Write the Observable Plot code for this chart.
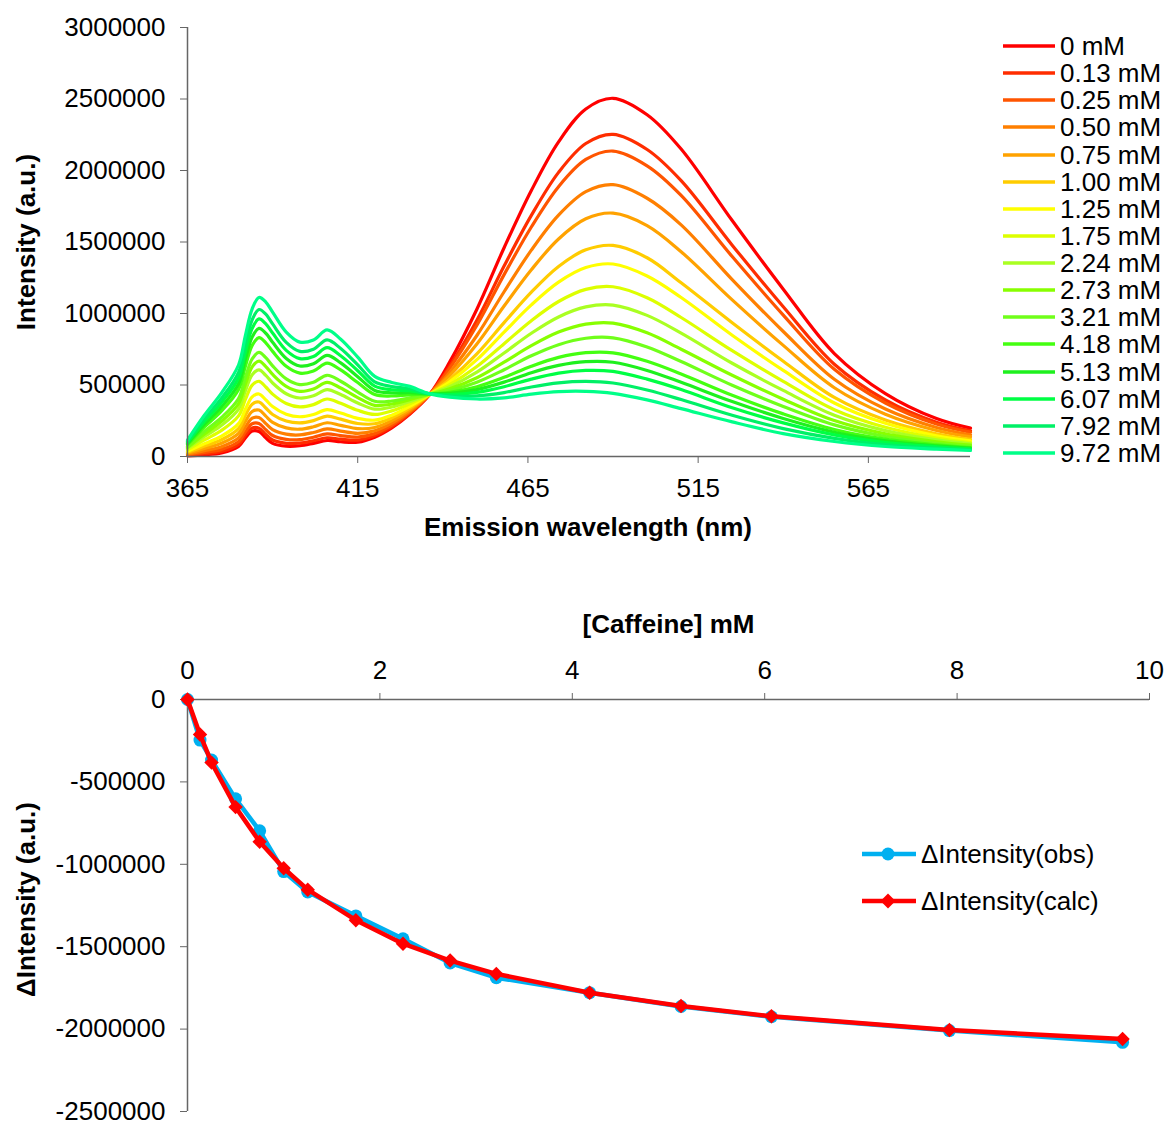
<!DOCTYPE html>
<html><head><meta charset="utf-8">
<script src="https://cdn.jsdelivr.net/npm/d3@7"></script>
<script src="https://cdn.jsdelivr.net/npm/@observablehq/plot@0.6"></script>
<style>
body{margin:0;background:#fff;}
#wrap{position:relative;width:1167px;height:1126px;overflow:hidden;font-family:"Liberation Sans",Arial,sans-serif;background:#fff;}
#top svg,#bottom svg{display:block;overflow:visible;}
.row{position:absolute;height:28px;display:flex;align-items:center;font-size:26px;line-height:28px;color:#000;white-space:nowrap;}
.row svg{display:block;margin-right:4px;}
</style></head><body>
<div id="wrap"><div id="top"></div><div id="bottom"></div><div id="legTop"></div><div id="legBot"></div></div>
<script>
// ---------- Top panel: emission spectra (intensity in thousands of a.u.) ----------
const WL = [365,370,375,380,382,384,386,388,390,394,398,402,406,410,415,420,425,430,436,442,450,458,466,474,482,490,500,510,525,540,555,570,585,595];
const concLabels = ["0 mM","0.13 mM","0.25 mM","0.50 mM","0.75 mM","1.00 mM","1.25 mM","1.75 mM","2.24 mM","2.73 mM","3.21 mM","4.18 mM","5.13 mM","6.07 mM","7.92 mM","9.72 mM"];
const COLORS = ["#FF0000","#FF2D00","#FF5500","#FF7F00","#FFA200","#FFCC00","#FFFF00","#DDFF00","#AAFF22","#88FF00","#70FF1A","#44FF11","#1EF01E","#00FF44","#00F066","#00FF88"];
const I_0_00 = [5,12,25,70,130,178,175,130,92,72,75,92,112,103,100,135,200,290,430,660,1030,1460,1860,2200,2430,2505,2390,2150,1650,1170,720,440,265,198];
const I_0_13 = [8,19,36,84,148,199,198,154,115,92,93,110,131,121,115,146,208,295,430,630,953,1332,1686,1987,2189,2253,2147,1929,1478,1047,645,395,239,179];
const I_0_25 = [12,29,50,104,173,229,231,187,147,120,118,135,158,146,136,160,219,302,431,616,918,1272,1605,1887,2077,2136,2033,1826,1398,989,610,374,227,170];
const I_0_50 = [17,41,69,130,205,268,273,230,188,156,151,168,193,178,162,180,233,311,431,588,846,1152,1443,1688,1852,1901,1806,1620,1237,874,540,332,203,152];
const I_0_75 = [23,57,92,161,245,315,325,282,239,200,191,208,236,218,195,203,251,322,432,565,786,1052,1306,1521,1662,1702,1615,1432,1095,777,481,296,182,137];
const I_1_00 = [29,73,117,195,288,366,381,339,294,248,235,251,282,261,231,229,270,334,432,538,717,936,1149,1329,1445,1476,1390,1215,935,666,413,255,159,120];
const I_1_25 = [36,90,143,230,330,417,437,396,349,295,278,294,328,304,267,254,289,347,433,522,677,870,1060,1219,1321,1346,1262,1112,848,602,374,232,145,110];
const I_1_75 = [46,116,183,284,399,499,526,486,436,371,347,363,402,372,323,294,319,366,434,503,629,789,950,1084,1169,1187,1110,972,740,525,327,204,129,98];
const I_2_24 = [56,140,218,332,459,571,606,567,514,439,409,425,468,433,374,331,346,383,435,488,590,724,862,976,1046,1059,987,863,652,462,289,181,116,89];
const I_2_73 = [63,158,246,369,506,627,667,629,574,491,456,472,518,479,412,358,367,396,435,473,551,660,775,870,926,933,865,750,568,400,251,158,103,79];
const I_3_21 = [70,176,273,406,552,682,728,691,634,543,503,519,568,526,451,386,388,409,436,461,520,607,704,782,827,830,766,664,498,350,221,140,92,71];
const I_4_18 = [82,207,319,469,631,777,831,795,735,631,583,598,653,605,517,433,423,431,437,449,488,554,631,693,726,725,666,577,428,298,189,121,81,63];
const I_5_13 = [90,226,348,509,681,836,896,862,799,686,633,649,707,655,558,462,445,446,438,441,468,520,586,637,663,659,602,519,384,266,170,109,74,58];
const I_6_07 = [97,246,378,549,731,896,962,928,863,742,684,699,761,705,600,492,467,460,439,433,448,488,541,583,602,595,541,468,341,235,151,97,68,54];
const I_7_92 = [105,265,407,589,782,956,1028,995,927,798,735,750,815,755,641,522,489,474,439,424,424,447,486,515,525,514,465,398,288,195,127,83,59,47];
const I_9_72 = [115,290,445,640,846,1033,1112,1080,1010,870,800,815,885,820,695,560,518,492,440,415,402,410,436,454,456,442,396,335,242,160,105,70,52,42];
const spectra = [I_0_00,I_0_13,I_0_25,I_0_50,I_0_75,I_1_00,I_1_25,I_1_75,I_2_24,I_2_73,I_3_21,I_4_18,I_5_13,I_6_07,I_7_92,I_9_72];
const xTicksTop = [365,415,465,515,565];
const yTicksTop = [0,500000,1000000,1500000,2000000,2500000,3000000];

// ---------- Bottom panel: titration ----------
const caffeine = [0,0.13,0.25,0.50,0.75,1.00,1.25,1.75,2.24,2.73,3.21,4.18,5.13,6.07,7.92,9.72];
const dObs  = [0,-246000,-367000,-603000,-797000,-1044000,-1168000,-1313000,-1452000,-1599000,-1688000,-1779000,-1863000,-1925000,-2009000,-2080000];
const dCalc = [0,-212000,-383000,-653000,-863000,-1024000,-1154000,-1339000,-1482000,-1584000,-1665000,-1779000,-1860000,-1922000,-2005000,-2060000];
const xTicksBot = [0,2,4,6,8,10];
const yTicksBot = [0,-500000,-1000000,-1500000,-2000000,-2500000];
const seriesBot = ["ΔIntensity(obs)","ΔIntensity(calc)"];
const colorsBot = ["#00B0F0","#FF0000"];

const FONT = "'Liberation Sans', Arial, sans-serif";
const AX = "#666";

const topData = [];
spectra.forEach((arr, k) => arr.forEach((v, i) => topData.push({wl: WL[i], I: v * 1000, c: concLabels[k]})));

const topPlot = Plot.plot({
  width: 1167, height: 560,
  marginLeft: 187, marginRight: 197, marginTop: 27, marginBottom: 104,
  style: {fontFamily: FONT, fontSize: "26px", color: "#000", background: "#fff", overflow: "visible"},
  x: {domain: [365, 595]},
  y: {domain: [0, 3000000]},
  color: {domain: concLabels, range: COLORS},
  marks: [
    Plot.line(topData, {x: "wl", y: "I", z: "c", stroke: "c", strokeWidth: 3.2, curve: "catmull-rom"}),
    Plot.ruleY([0], {stroke: AX, strokeWidth: 1.5}),
    Plot.ruleX([365], {stroke: AX, strokeWidth: 1.5}),
    Plot.axisY({ticks: yTicksTop, tickSize: 7, tickPadding: 15, tickFormat: d => String(d), label: null, stroke: AX}),
    Plot.axisX({ticks: xTicksTop, tickSize: 7, tickPadding: 15, tickFormat: d => String(d), label: null, stroke: AX}),
    Plot.text(["Intensity (a.u.)"], {frameAnchor: "left", dx: -161, rotate: -90, textAnchor: "middle", fontWeight: "bold"}),
    Plot.text(["Emission wavelength (nm)"], {frameAnchor: "bottom", dy: 79, dx: 9, textAnchor: "middle", fontWeight: "bold"})
  ]
});
document.getElementById("top").appendChild(topPlot);

const botData = caffeine.map((c, i) => ({c, obs: dObs[i], calc: dCalc[i]}));
const botPlot = Plot.plot({
  width: 1167, height: 566,
  marginLeft: 187, marginRight: 18, marginTop: 139, marginBottom: 15,
  style: {fontFamily: FONT, fontSize: "26px", color: "#000", background: "#fff", overflow: "visible"},
  x: {domain: [0, 10]},
  y: {domain: [-2500000, 0]},
  marks: [
    Plot.ruleY([0], {stroke: AX, strokeWidth: 1.5}),
    Plot.ruleX([0], {stroke: AX, strokeWidth: 1.5}),
    Plot.axisX({anchor: "top", ticks: xTicksBot, tickSize: 7, tickPadding: 14, tickFormat: d => String(d), label: null, stroke: AX}),
    Plot.axisY({ticks: yTicksBot, tickSize: 7, tickPadding: 15, tickFormat: d => String(d), label: null, stroke: AX}),
    Plot.line(botData, {x: "c", y: "obs", stroke: colorsBot[0], strokeWidth: 4.5}),
    Plot.dot(botData, {x: "c", y: "obs", r: 6.5, fill: colorsBot[0], stroke: "none"}),
    Plot.line(botData, {x: "c", y: "calc", stroke: colorsBot[1], strokeWidth: 4.5}),
    Plot.dot(botData, {x: "c", y: "calc", symbol: "diamond2", r: 6.5, fill: colorsBot[1], stroke: "none"}),
    Plot.text(["[Caffeine] mM"], {frameAnchor: "top", dy: -85, textAnchor: "middle", fontWeight: "bold"}),
    Plot.text(["ΔIntensity (a.u.)"], {frameAnchor: "left", dx: -161, dy: -6, rotate: -90, textAnchor: "middle", fontWeight: "bold"})
  ]
});
document.getElementById("bottom").appendChild(botPlot);

// ---------- Legends ----------
const legTop = document.getElementById("legTop");
concLabels.forEach((lab, i) => {
  const row = document.createElement("div");
  row.className = "row";
  row.style.left = "1002px";
  row.style.top = (46 + i * 27.13 - 14) + "px";
  row.innerHTML = `<svg width="54" height="8"><line x1="1" y1="4" x2="53" y2="4" stroke="${COLORS[i]}" stroke-width="3.5"/></svg><span>${lab}</span>`;
  legTop.appendChild(row);
});
const legBot = document.getElementById("legBot");
seriesBot.forEach((lab, i) => {
  const row = document.createElement("div");
  row.className = "row";
  row.style.left = "861px";
  row.style.top = (854 + i * 47 - 14) + "px";
  const marker = i === 0
    ? `<circle cx="27" cy="10" r="6.5" fill="${colorsBot[i]}"/>`
    : `<path d="M27 2.5 L34.5 10 L27 17.5 L19.5 10 Z" fill="${colorsBot[i]}"/>`;
  row.innerHTML = `<svg width="56" height="20"><line x1="1" y1="10" x2="55" y2="10" stroke="${colorsBot[i]}" stroke-width="4.5"/>${marker}</svg><span>${lab}</span>`;
  legBot.appendChild(row);
});
</script></body></html>
